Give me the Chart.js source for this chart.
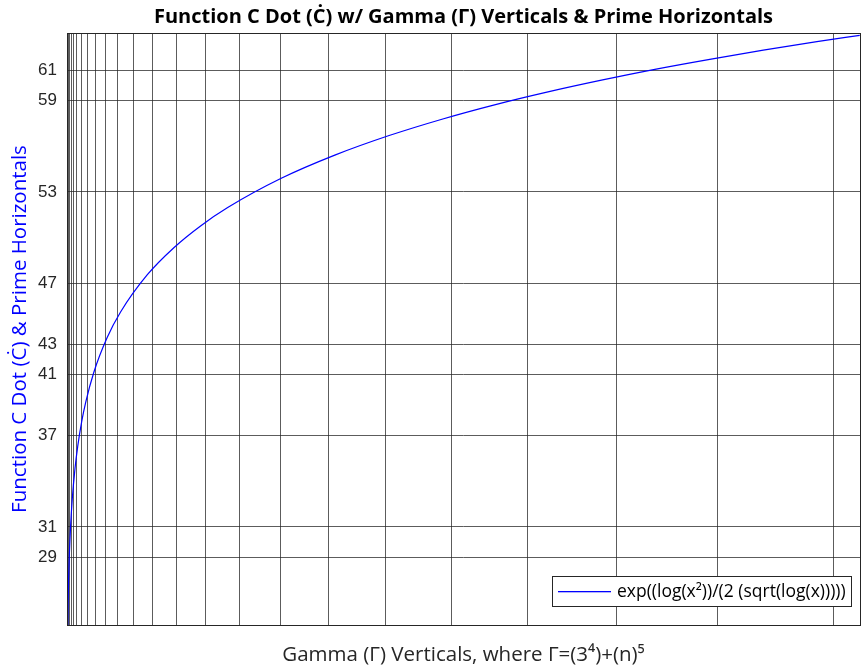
<!DOCTYPE html>
<html>
<head>
<meta charset="utf-8">
<title>Function C Dot</title>
<script src="https://cdn.jsdelivr.net/npm/chart.js@4.4.1/dist/chart.umd.min.js"></script>
<style>
  html, body { margin: 0; padding: 0; background: #fff; }
  #chart { display: block; }
</style>
</head>
<body>
<canvas id="chart" width="862" height="671"></canvas>
<script>
// gamma verticals, Γ = 3^4 + n^5 for n = 0..31
var gammaTicks = [81, 82, 113, 324, 1105, 3206, 7857, 16888, 32849, 59130,
  100081, 161132, 248913, 371374, 537905, 759456, 1048657, 1419938, 1889649,
  2476180, 3200081, 4084182, 5153713, 6436424, 7962705, 9765706, 11881457,
  14348988, 17210449, 20511230, 24300081, 28629232];

// prime horizontals
var primeTicks = [29, 31, 37, 41, 43, 47, 53, 59, 61];

// curve
var curveX = [20000, 28000, 40000, 60000, 90000, 130000, 200000, 300000, 400000,
  550000, 700000, 1000000, 1500000, 2000000, 3000000, 4000000, 5000000, 6000000,
  8000000, 10000000, 12000000, 14000000, 16000000, 18000000, 20000000, 22000000,
  24000000, 26000000, 28000000, 29600000];
var curveY = [23.27, 24.53, 25.93, 27.58, 29.30, 30.92, 32.91, 34.86, 36.29,
  37.93, 39.20, 41.14, 43.43, 45.11, 47.56, 49.35, 50.78, 51.97,
  53.89, 55.41, 56.68, 57.77, 58.73, 59.58, 60.35, 61.06,
  61.70, 62.30, 62.86, 63.28];

var seriesLabel = 'exp((log(x\u00B2))/(2 (sqrt(log(x)))))';

var points = curveX.map(function(x, i) { return { x: x, y: curveY[i] }; });

var TICK_FONT = 'Liberation Sans, Arial, Helvetica, sans-serif';
var TEXT_FONT = 'Open Sans, Liberation Sans, Arial, sans-serif';
var INK = '#262626';
var GRID = 'rgba(38,38,38,0.75)';
var LINE = '#0000ff';

// box around the axes + legend in the lower right corner
var boxAndLegend = {
  id: 'boxAndLegend',
  afterDraw: function(chart) {
    var ctx = chart.ctx, a = chart.chartArea;
    ctx.save();
    ctx.strokeStyle = INK;
    ctx.lineWidth = 1;
    ctx.strokeRect(Math.round(a.left) + 0.5, Math.round(a.top) + 0.5,
      Math.round(a.right - a.left), Math.round(a.bottom - a.top));

    var label = chart.data.datasets[0].label;
    ctx.font = '17.5px ' + TEXT_FONT;
    var tw = ctx.measureText(label).width;
    var h = 30, w = Math.round(65 + tw + 5);
    var x0 = Math.round(a.right - 9 - w), y0 = Math.round(a.bottom - 19 - h);
    ctx.fillStyle = '#fff';
    ctx.fillRect(x0, y0, w, h);
    ctx.strokeRect(x0 + 0.5, y0 + 0.5, w, h);

    // line sample
    ctx.fillStyle = LINE;
    ctx.fillRect(x0 + 6, y0 + h / 2, 53, 1.3);

    ctx.fillStyle = '#000';
    ctx.textBaseline = 'middle';
    ctx.fillText(label, x0 + 65, y0 + h / 2 + 1);
    ctx.restore();
  }
};

var chart = new Chart(document.getElementById('chart'), {
  type: 'line',
  data: {
    datasets: [{
      label: seriesLabel,
      data: points,
      borderColor: LINE,
      borderWidth: 1.2,
      pointRadius: 0,
      cubicInterpolationMode: 'monotone',
      fill: false
    }]
  },
  options: {
    responsive: false,
    animation: false,
    layout: { padding: { left: 0, right: 2, top: 0, bottom: 0 } },
    plugins: {
      legend: { display: false },
      tooltip: { enabled: false },
      title: {
        display: true,
        fullSize: false,
        text: 'Function C Dot (\u010A) w/ Gamma (\u0393) Verticals & Prime Horizontals',
        color: '#000',
        font: { family: TEXT_FONT, size: 20, weight: 'bold' },
        padding: { top: 5, bottom: 4 }
      }
    },
    scales: {
      x: {
        type: 'linear',
        min: 0,
        max: 29610000,
        afterBuildTicks: function(axis) {
          axis.ticks = gammaTicks.map(function(v) { return { value: v }; });
        },
        afterFit: function(axis) { axis.height = 46; },
        ticks: { display: false },
        grid: { color: GRID, lineWidth: 1, drawTicks: false },
        border: { display: false },
        title: {
          display: true,
          text: 'Gamma (\u0393) Verticals, where \u0393=(3\u2074)+(n)\u2075',
          color: INK,
          font: { family: TEXT_FONT, size: 20.5 },
          padding: { top: 0, bottom: 4 }
        }
      },
      y: {
        min: 24.56,
        max: 63.43,
        afterBuildTicks: function(axis) {
          axis.ticks = primeTicks.map(function(v) { return { value: v }; });
        },
        afterFit: function(axis) { axis.width = 67; },
        ticks: {
          color: INK,
          font: { family: TICK_FONT, size: 17 },
          padding: 10
        },
        grid: { color: GRID, lineWidth: 1, drawTicks: false },
        border: { display: false },
        title: {
          display: true,
          text: 'Function C Dot (\u010A) & Prime Horizontals',
          color: LINE,
          font: { family: TEXT_FONT, size: 20.5 },
          padding: { top: 8, bottom: 0 }
        }
      }
    }
  },
  plugins: [boxAndLegend]
});
</script>
</body>
</html>
